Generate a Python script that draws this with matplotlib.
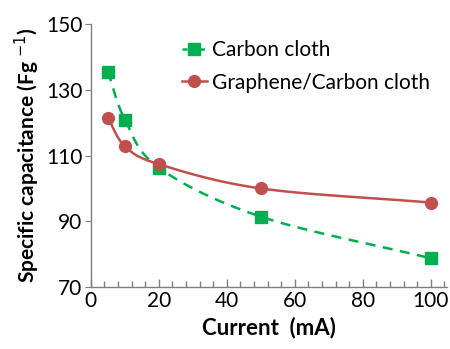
import matplotlib.pyplot as plt
import numpy as np
from matplotlib.ticker import MultipleLocator

current = [5, 10, 20, 50, 100]
carbon_cloth = [135.6, 121.0, 106.3, 91.4, 78.7]
graphene_cc = [121.5, 112.9, 107.4, 100.0, 95.7]

green = '#00b050'
red = '#c0504d'
grey = '#7f7f7f'

plt.rcParams['font.family'] = ['Lato', 'DejaVu Sans']


def smooth(x, y, n=30):
    # Catmull-Rom style smoothing, like a spreadsheet "smoothed line"
    x = np.asarray(x, float)
    y = np.asarray(y, float)
    px = np.concatenate([[2 * x[0] - x[1]], x, [2 * x[-1] - x[-2]]])
    py = np.concatenate([[2 * y[0] - y[1]], y, [2 * y[-1] - y[-2]]])
    xs, ys = [], []
    t = np.linspace(0, 1, n)
    for i in range(1, len(px) - 2):
        for p, out in ((px, xs), (py, ys)):
            p0, p1, p2, p3 = p[i - 1], p[i], p[i + 1], p[i + 2]
            m1 = (p2 - p0) / 6
            m2 = (p3 - p1) / 6
            seg = ((1 - t) ** 3 * p1 + 3 * (1 - t) ** 2 * t * (p1 + m1)
                   + 3 * (1 - t) * t ** 2 * (p2 - m2) + t ** 3 * p2)
            out.extend(seg)
    return np.array(xs), np.array(ys)


fig = plt.figure(figsize=(4.5, 3.49), dpi=100)
ax = fig.add_axes([0.202, 0.178, 0.791, 0.752])

sx, sy = smooth(current, carbon_cloth)
ax.plot(sx, sy, color=green, linestyle=(0, (4, 3)), linewidth=1.8)
ax.plot(current, carbon_cloth, linestyle='none', marker='s', markersize=8, color=green)
gx, gy = smooth(current, graphene_cc)
ax.plot(gx, gy, color=red, linewidth=1.8)
ax.plot(current, graphene_cc, linestyle='none', marker='o', markersize=8.5, color=red)

# legend proxies
ax.plot([], [], color=green, linestyle=(0, (2, 1.5)), linewidth=1.8, marker='s',
        markersize=8, label='Carbon cloth')
ax.plot([], [], color=red, linewidth=1.8, marker='o', markersize=8.5,
        label='Graphene/Carbon cloth')
ax.legend(loc='upper left', bbox_to_anchor=(0.255, 0.94), frameon=False, fontsize=15,
          handlelength=1.2, handletextpad=0.25, labelspacing=0.6, borderaxespad=0,
          borderpad=0)

ax.set_xlim(0, 104.7)
ax.set_ylim(70, 150)
ax.set_xticks([0, 20, 40, 60, 80, 100])
ax.set_yticks([70, 90, 110, 130, 150])
ax.xaxis.set_minor_locator(MultipleLocator(4))

for s in ['top', 'right']:
    ax.spines[s].set_visible(False)
for s in ['left', 'bottom']:
    ax.spines[s].set_color(grey)
    ax.spines[s].set_linewidth(1.0)

ax.tick_params(axis='x', which='major', direction='in', length=6, width=1, color=grey,
               labelsize=15, pad=3)
ax.tick_params(axis='x', which='minor', direction='in', length=4, width=1, color=grey)
ax.tick_params(axis='y', which='major', direction='out', length=4, color=grey,
               labelsize=15, pad=2)

ax.set_xlabel('Current  (mA)', fontsize=16, fontweight='bold', labelpad=4)
ax.set_ylabel('Specific capacitance (Fg $^{-1}$)', fontsize=15, fontweight='bold',
              labelpad=3)

fig.savefig('out.png', dpi=100)
